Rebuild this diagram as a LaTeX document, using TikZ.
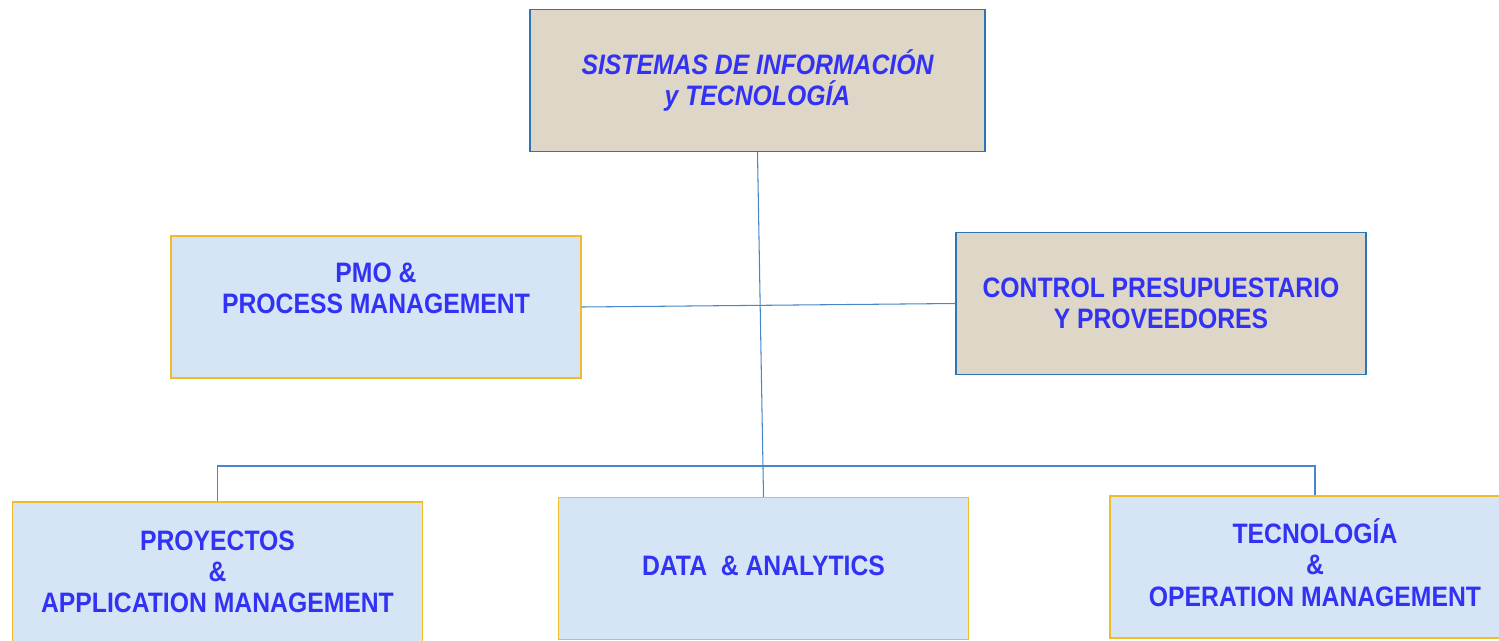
\documentclass[tikz,border=0pt]{standalone}
\usepackage{fontspec}
\newfontfamily\boxfont[FakeStretch=0.88]{Liberation Sans}
\definecolor{lblue}{RGB}{50,50,245}
\definecolor{tan}{RGB}{222,214,199}
\definecolor{sky}{RGB}{214,229,246}
\definecolor{gold}{RGB}{240,188,40}
\definecolor{edge}{RGB}{46,117,182}
\definecolor{wire}{RGB}{70,135,200}
\tikzset{
  unit/.style={rectangle, minimum width=8.2cm, minimum height=2.84cm, align=center,
    inner sep=0pt, text=lblue, font=\boxfont\bfseries\fontsize{16}{17.8}\selectfont},
  head/.style={unit, fill=tan, draw=edge, line width=0.8pt},
  staff/.style={unit, fill=sky, draw=gold, line width=0.8pt},
  wire/.style={draw=wire, line width=0.6pt}
}
\begin{document}
\begin{tikzpicture}[x=0.02cm,y=-0.02cm]
\useasboundingbox (0,0) rectangle (1499,640);
\node [head, minimum width=9.1cm] (sit) at (757.5,80.5) {\itshape SISTEMAS DE INFORMACIÓN\\\itshape y TECNOLOGÍA};
\node [staff, text depth=0.74cm] (pmo) at (376,307) {PMO \&\\PROCESS MANAGEMENT};
\node [head] (ctrl) at (1161,303.5) {CONTROL PRESUPUESTARIO\\Y PROVEEDORES};
\node [staff, minimum height=2.8cm] (proy) at (217.5,572) {PROYECTOS\\\&\\APPLICATION MANAGEMENT};
\node [staff, text depth=0.1cm] (data) at (763.5,568.5) {DATA\ \ \& ANALYTICS};
\node [staff, text depth=0.18cm] (tec) at (1315,567) {TECNOLOGÍA\\\&\\OPERATION MANAGEMENT};
\coordinate (bus) at (0,466);
\draw [wire] (sit.south) -- (data.north);
\draw [wire] (pmo.east) -- (ctrl.west);
\draw [wire] (proy.north) -- (proy.north |- bus) -| (tec.north);
\end{tikzpicture}
\end{document}
